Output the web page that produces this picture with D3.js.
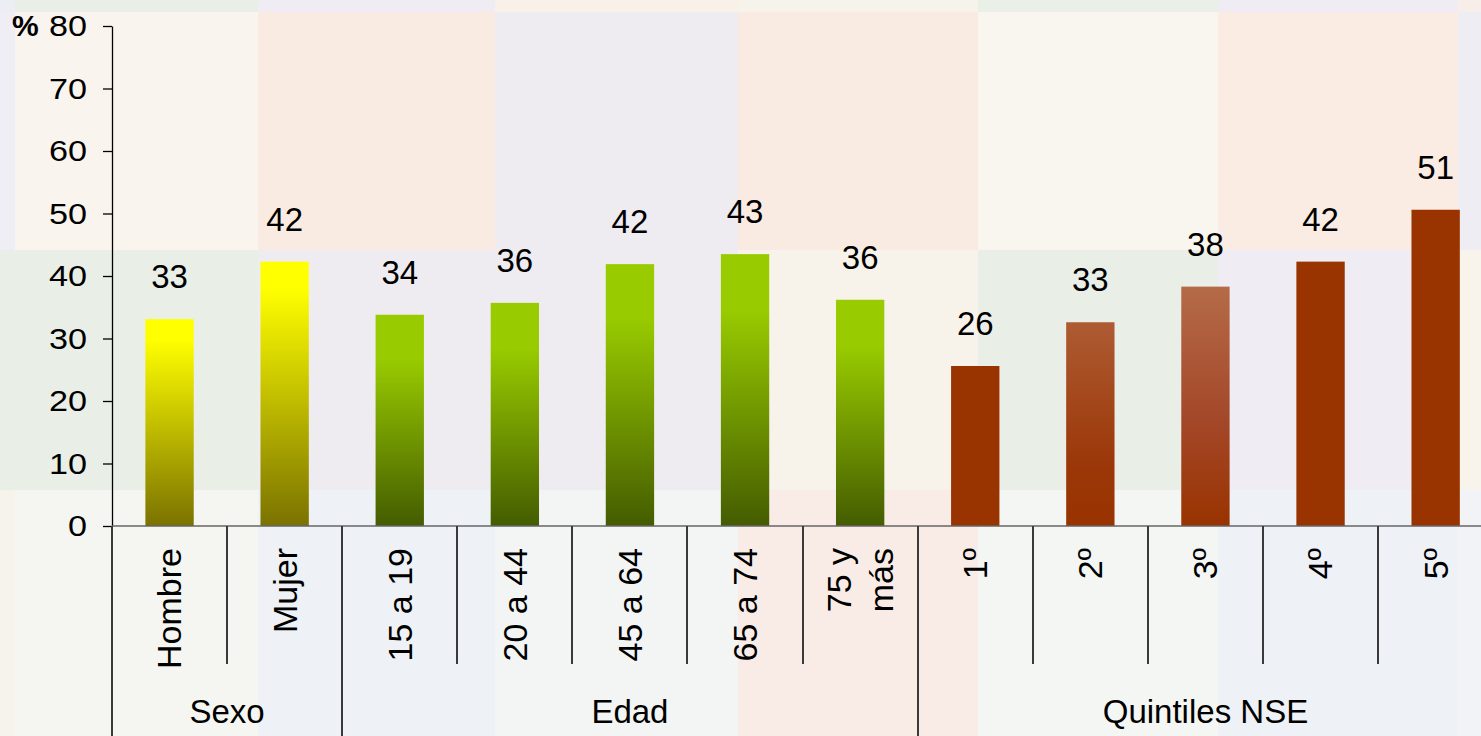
<!DOCTYPE html>
<meta charset="utf-8">
<style>
body{margin:0;overflow:hidden;}
text{font-family:"Liberation Sans",Arial,sans-serif;fill:#000;}
.sep{stroke:#3a3a3a;stroke-width:1.3px;shape-rendering:crispEdges;}
</style>
<body>
<script src="https://d3js.org/d3.v7.min.js"></script>
<script>

var categories=["Hombre","Mujer","15 a 19","20 a 44","45 a 64","65 a 74","75 y más","1º","2º","3º","4º","5º"];
var values=[33.1,42.3,33.8,35.7,41.9,43.5,36.2,25.6,32.6,38.3,42.3,50.6];
var valueLabels=["33","42","34","36","42","43","36","26","33","38","42","51"];
var groupNames=["Sexo","Edad","Quintiles NSE"];
var groupSizes=[2,5,5];
var yTicks=[0,10,20,30,40,50,60,70,80];
var fills=["sexo","sexo","edad","edad","edad","edad","edad","q","q2","q3","q","q"];

// pastel patchwork behind the chart
var tileX=[0,15,258,495,738,978,1218,1458,1481];
var tileY=[0,12,250,490,736];
var tileColors=[
  ["#eceef3","#e9eee7","#efedf3","#f9f1e8","#f5f3ea","#eaefe8","#efedf3","#f7eee9"],
  ["#efeef4","#f9f5ee","#faebe2","#efecf1","#faebe2","#f9f5ef","#faebe3","#efedf4"],
  ["#e9eee6","#e9eee7","#efecf1","#efecf1","#f8f3ea","#e9eee6","#efedf3","#f8f4ec"],
  ["#f5f3ea","#f5f6f2","#eef1f5","#f3f4f4","#f9ece6","#f4f6f4","#eef1f5","#f1f3f6"]
];

var W=1481,H=736;
var svg=d3.select("body").append("svg").attr("width",W).attr("height",H);

var bg=svg.append("g");
tileColors.forEach(function(row,r){
  row.forEach(function(c,i){
    bg.append("rect").attr("x",tileX[i]).attr("y",tileY[r])
      .attr("width",tileX[i+1]-tileX[i]).attr("height",tileY[r+1]-tileY[r]).attr("fill",c);
  });
});

var defs=svg.append("defs");
function grad(id,stops){
  var g=defs.append("linearGradient").attr("id",id).attr("x1",0).attr("y1",0).attr("x2",0).attr("y2",1);
  stops.forEach(function(s){g.append("stop").attr("offset",s[0]).attr("stop-color",s[1]);});
}
grad("sexo",[[0,"#ffff00"],[0.1,"#ffff00"],[1,"#7a7200"]]);
grad("edad",[[0,"#99cc00"],[0.2,"#99cc00"],[1,"#445c00"]]);
grad("q",[[0,"#993300"],[1,"#993300"]]);
grad("q2",[[0,"#ae5b33"],[0.7,"#9b3708"],[1,"#993300"]]);
grad("q3",[[0,"#b56b48"],[0.55,"#a4482a"],[1,"#993300"]]);

var x=d3.scaleBand().domain(categories).range([112,112+12*115.1]).padding(0);
var y=d3.scaleLinear().domain([0,80]).range([526,26]);
var barW=x.bandwidth()*0.42;

// bars
svg.append("g").selectAll("rect").data(categories).join("rect")
  .attr("x",function(d){return x(d)+(x.bandwidth()-barW)/2;})
  .attr("y",function(d,i){return y(values[i]);})
  .attr("width",barW)
  .attr("height",function(d,i){return y(0)-y(values[i]);})
  .attr("fill",function(d,i){return "url(#"+fills[i]+")";});

// value labels
svg.append("g").selectAll("text").data(categories).join("text")
  .attr("x",function(d){return x(d)+x.bandwidth()/2;})
  .attr("y",function(d,i){return y(values[i])-31;})
  .attr("text-anchor","middle").style("font-size","33px")
  .text(function(d,i){return valueLabels[i];});

// y axis
var ya=svg.append("g").attr("transform","translate(112,0)")
  .call(d3.axisLeft(y).tickValues(yTicks).tickSize(9).tickSizeOuter(0).tickPadding(16));
ya.select(".domain").attr("stroke","#000").attr("stroke-width",1.3);
ya.selectAll(".tick line").attr("stroke","#000").attr("stroke-width",1.3);
ya.selectAll(".tick text").style("font-size","30px").style("font-family","Liberation Sans, Arial, sans-serif")
  .attr("x",-25/1.14).attr("transform","scale(1.14,1)").attr("fill","#000");

svg.append("text").attr("x",12).attr("y",36).style("font-size","30px").style("font-weight","bold").text("%");

// x axis line
svg.append("line").attr("x1",112).attr("x2",W).attr("y1",y(0)).attr("y2",y(0))
  .attr("stroke","#666").attr("stroke-width",1.5);

// separators
var groupStart=[0];
groupSizes.forEach(function(n,i){groupStart.push(groupStart[i]+n);});
var sep=svg.append("g");
categories.forEach(function(d,i){
  var isGroup=groupStart.indexOf(i)>=0;
  sep.append("line").attr("class","sep").attr("x1",Math.round(x(d))).attr("x2",Math.round(x(d)))
    .attr("y1",y(0)).attr("y2",isGroup?H:664);
});

// category labels (rotated)
var cl=svg.append("g");
categories.forEach(function(d){
  var cx=x(d)+x.bandwidth()/2;
  var lines=d==="75 y más"?["75 y","más"]:[d];
  lines.forEach(function(t,j){
    var off=(j-(lines.length-1)/2)*42;
    cl.append("text").attr("transform","translate("+(cx+off)+",548) rotate(-90)")
      .attr("text-anchor","end").attr("dy","0.35em").style("font-size","34px").text(t);
  });
});

// group labels
var gl=svg.append("g");
groupNames.forEach(function(name,i){
  var a=x(categories[groupStart[i]]);
  var b=a+groupSizes[i]*x.step();
  gl.append("text").attr("x",(a+b)/2).attr("y",723).attr("text-anchor","middle")
    .style("font-size","33px").text(name);
});

</script>
</body>
